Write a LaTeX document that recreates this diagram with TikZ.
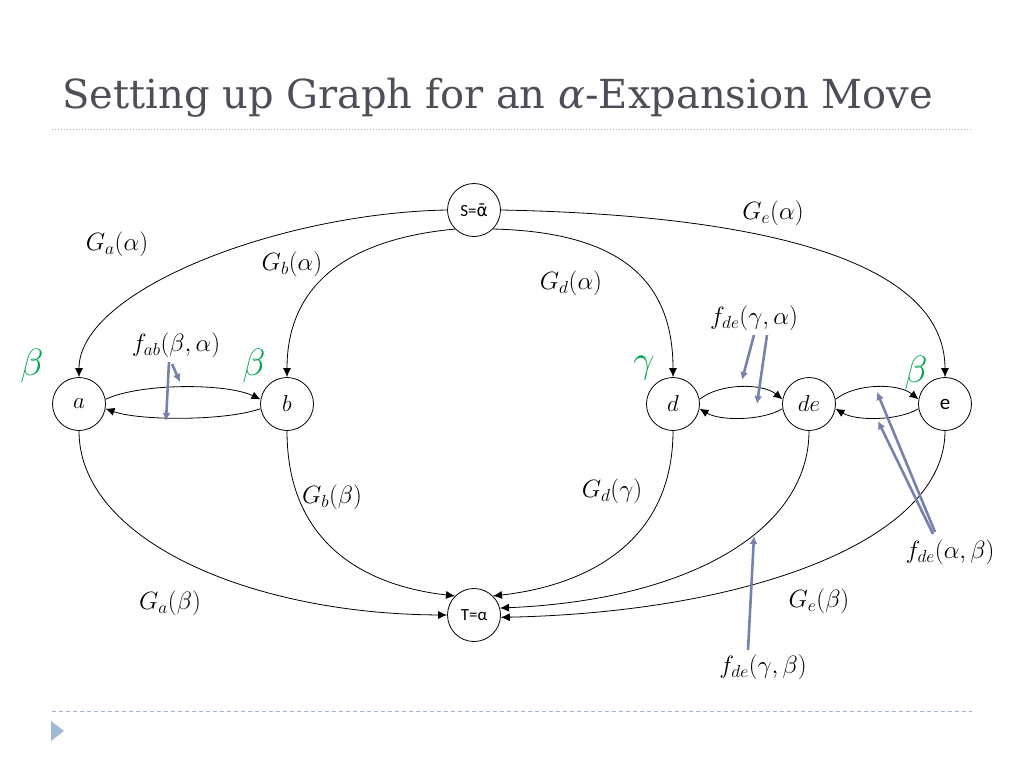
\RequirePackage{fix-cm}
\documentclass[tikz,border=0pt]{standalone}
\usepackage{fontspec}
\usetikzlibrary{arrows.meta}
\newfontfamily\titlefont{DejaVu Serif}
\newfontfamily\nodefont{Carlito}
\newfontfamily\greekfont{DejaVu Sans}
\definecolor{titlegray}{RGB}{78,78,88}
\definecolor{fblue}{RGB}{118,130,172}
\definecolor{lgreen}{RGB}{0,166,81}
\definecolor{rulegray}{RGB}{175,175,175}
\definecolor{ruleblue}{RGB}{160,180,205}
\definecolor{tri}{RGB}{160,184,216}
\begin{document}
\begin{tikzpicture}[x=1pt,y=-1pt,
  vert/.style={circle,draw,line width=0.8pt,minimum size=53pt,inner sep=0pt},
  edge/.style={line width=0.8pt,-{Latex[length=9pt,width=8pt]}},
  farrow/.style={fblue,line width=2.6pt,-{Latex[length=8pt,width=8pt]}},
  lab/.style={font=\fontsize{25}{27}\selectfont},
  glab/.style={lgreen,font=\fontsize{38}{40}\selectfont},
  mlet/.style={font=\fontsize{23}{25}\selectfont}]
\useasboundingbox (0,0) rectangle (1024,768);
% title and rules
\node[anchor=base west,text=titlegray,inner sep=0pt,font=\titlefont\fontsize{40}{44}\selectfont] (title) at (62,108) {Setting up Graph for an {\itshape α}-Expansion Move};
\draw[rulegray,dotted,line width=1pt] (52,129) -- (972,129);
\draw[ruleblue,line width=0.8pt,dash pattern=on 4pt off 3pt] (52,711) -- (972,711);
\fill[tri] (51,721) -- (64,731) -- (51,741) -- cycle;
% vertices
\node[vert,font=\nodefont\fontsize{17}{18}\selectfont] (S) at (474,210) {S={\greekfont ᾱ}};
\node[vert,font=\nodefont\fontsize{17}{18}\selectfont] (T) at (474,615) {T=α};
\node[vert,mlet] (a) at (79,404) {$a$};
\node[vert,mlet] (b) at (287,404) {$b$};
\node[vert,mlet] (d) at (673,404) {$d$};
\node[vert,mlet] (de) at (809,404) {$de$};
\node[vert,font=\nodefont\fontsize{21}{22}\selectfont] (e) at (945,404) {e};
% source edges
\draw[edge] (S.west) .. controls (280,213) and (79,290) .. (a.north);
\draw[edge] (S.225) .. controls (340,240) and (287,290) .. (b.north);
\draw[edge] (S.315) .. controls (620,232) and (673,280) .. (d.north);
\draw[edge] (S.east) .. controls (760,215) and (945,260) .. (e.north);
% sink edges
\draw[edge] (a.south) .. controls (79,540) and (250,614) .. (T.west);
\draw[edge] (b.south) .. controls (287,540) and (360,585) .. (T.135);
\draw[edge] (d.south) .. controls (673,540) and (590,585) .. (T.45);
\draw[edge] (de.south) .. controls (809,530) and (690,600) .. (T.15);
\draw[edge] (e.south) .. controls (945,540) and (750,612) .. (T.355);
% pairwise edges
\draw[edge] (a.10) .. controls (140,383) and (226,383) .. (b.170);
\draw[edge] (b.190) .. controls (226,421) and (140,421) .. (a.350);
\draw[edge] (d.10) .. controls (720,383) and (762,383) .. (de.170);
\draw[edge] (de.190) .. controls (762,421) and (720,421) .. (d.350);
\draw[edge] (de.10) .. controls (856,383) and (898,383) .. (e.170);
\draw[edge] (e.190) .. controls (898,421) and (856,421) .. (de.350);
% labels
\node[lab] (lGaa) at (117,244) {$G_a(\alpha)$};
\node[lab] (lGba) at (292,264) {$G_b(\alpha)$};
\node[lab] (lGda) at (571,283) {$G_d(\alpha)$};
\node[lab] (lGea) at (773,213) {$G_e(\alpha)$};
\node[lab] (lGab) at (170,603) {$G_a(\beta)$};
\node[lab] (lGbb) at (332,497) {$G_b(\beta)$};
\node[lab] (lGdg) at (612,491) {$G_d(\gamma)$};
\node[lab] (lGeb) at (819,601) {$G_e(\beta)$};
\node[lab] (lfab) at (176,345) {$f_{ab}(\beta,\alpha)$};
\node[lab] (lfdega) at (754,318) {$f_{de}(\gamma,\alpha)$};
\node[lab] (lfdegb) at (763,667) {$f_{de}(\gamma,\beta)$};
\node[lab] (lfdeab) at (950,552) {$f_{de}(\alpha,\beta)$};
% green labels
\node[glab] (ga) at (32,366) {$\beta$};
\node[glab] (gb) at (254,366) {$\beta$};
\node[glab] (gd) at (644,368) {$\gamma$};
\node[glab] (ge) at (916,373) {$\beta$};
% blue pointer arrows
\coordinate (fab1) at (169,362); \coordinate (fab1h) at (166,421);
\coordinate (fab2) at (172,364); \coordinate (fab2h) at (180,382);
\draw[farrow] (fab1) -- (fab1h);
\draw[farrow] (fab2) -- (fab2h);
\coordinate (fga1) at (754,335); \coordinate (fga1h) at (742,380);
\coordinate (fga2) at (767,335); \coordinate (fga2h) at (757,404);
\draw[farrow] (fga1) -- (fga1h);
\draw[farrow] (fga2) -- (fga2h);
\coordinate (fab3) at (935,532); \coordinate (fab3h) at (877,392);
\coordinate (fab4) at (933,534); \coordinate (fab4h) at (878,421);
\draw[farrow] (fab3) -- (fab3h);
\draw[farrow] (fab4) -- (fab4h);
\coordinate (fgb) at (748,650); \coordinate (fgbh) at (754,536);
\draw[farrow] (fgb) -- (fgbh);
\end{tikzpicture}
\end{document}
